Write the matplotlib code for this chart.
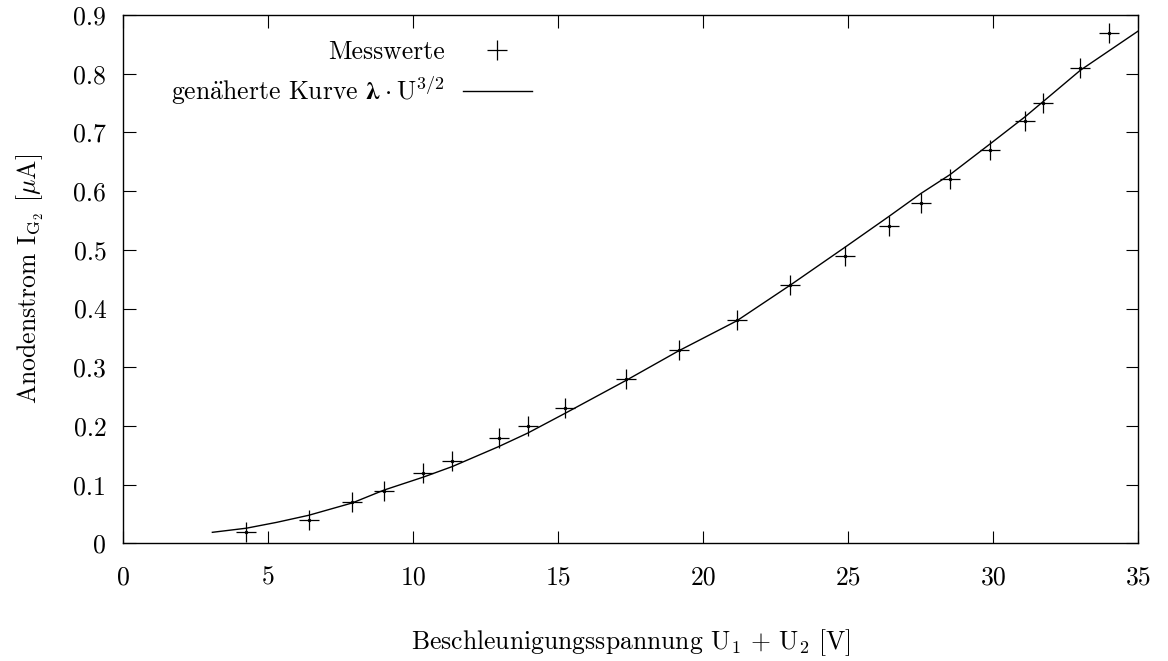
import matplotlib
matplotlib.use('Agg')
import matplotlib.pyplot as plt

# Messwerte: Beschleunigungsspannung U1+U2 [V] und Anodenstrom [µA]
u_mess = [4.25, 6.4, 7.9, 9.0, 10.35, 11.35, 12.95, 13.95, 15.25, 17.35,
          19.15, 21.15, 23.0, 24.9, 26.4, 27.5, 28.5, 29.9, 31.1, 31.7,
          33.0, 34.0]
i_mess = [0.02, 0.04, 0.07, 0.09, 0.12, 0.14, 0.18, 0.20, 0.23, 0.28,
          0.33, 0.38, 0.44, 0.49, 0.54, 0.58, 0.62, 0.67, 0.72, 0.75,
          0.81, 0.87]

u_fit = [3.08, 4.25, 5.3, 6.4, 7.9, 9.0, 10.35, 11.35, 12.95, 13.95,
         15.25, 17.35, 19.15, 21.15, 23.0, 24.9, 26.4, 27.5, 28.5, 29.9,
         31.1, 33.0, 35.0]
i_fit = [0.019, 0.026, 0.036, 0.048, 0.069, 0.091, 0.113, 0.131, 0.165, 0.188,
         0.222, 0.278, 0.328, 0.379, 0.440, 0.505, 0.557, 0.596, 0.628, 0.681,
         0.727, 0.806, 0.873]

x_ticks = [0, 5, 10, 15, 20, 25, 30, 35]
y_ticks = [0, 0.1, 0.2, 0.3, 0.4, 0.5, 0.6, 0.7, 0.8, 0.9]

plt.rcParams['font.family'] = ['cmr10', 'DejaVu Serif']
plt.rcParams['mathtext.fontset'] = 'cm'
plt.rcParams['axes.formatter.use_mathtext'] = True
plt.rcParams['font.size'] = 18.5

fig = plt.figure(figsize=(11.68, 6.61), dpi=100)
ax = fig.add_axes([0.1053, 0.1778, 0.8694, 0.7995])

ax.plot(u_mess, i_mess, '+', color='black', markersize=15, mew=0.9,
        label='Messwerte')
ax.plot(u_mess, i_mess, '.', color='black', markersize=3)
ax.plot(u_fit, i_fit, '-', color='black', lw=1.0,
        label=r'gen$\ddot{\mathrm{a}}$herte Kurve $\mathbf{λ}\cdot\mathrm{U}^{3/2}$')

ax.set_xlim(0, 35)
ax.set_ylim(0, 0.9)
ax.set_xticks(x_ticks)
ax.set_yticks(y_ticks)
ax.set_xticklabels([str(v) for v in x_ticks])
ax.set_yticklabels(['0'] + ['%.1f' % v for v in y_ticks[1:]])
ax.tick_params(direction='in', length=9, width=0.8, top=True, right=True)
ax.tick_params(axis='x', pad=16)
ax.tick_params(axis='y', pad=12)
for s in ax.spines.values():
    s.set_linewidth(1.0)

ax.set_xlabel(r'Beschleunigungsspannung $\mathrm{U}_1$ + $\mathrm{U}_2$ [V]',
              labelpad=27)
ax.set_ylabel(r'Anodenstrom $\mathrm{I}_{\mathrm{G}_2}$ [$\mu\mathrm{A}$]',
              labelpad=20)

leg = ax.legend(loc='upper right', bbox_to_anchor=(532 / 1168, 1 - 40 / 661),
                bbox_transform=fig.transFigure, markerfirst=False,
                frameon=False, borderpad=0, borderaxespad=0,
                handlelength=2.7, handletextpad=0.7, labelspacing=0.42)

fig.savefig('out.png', dpi=100)
